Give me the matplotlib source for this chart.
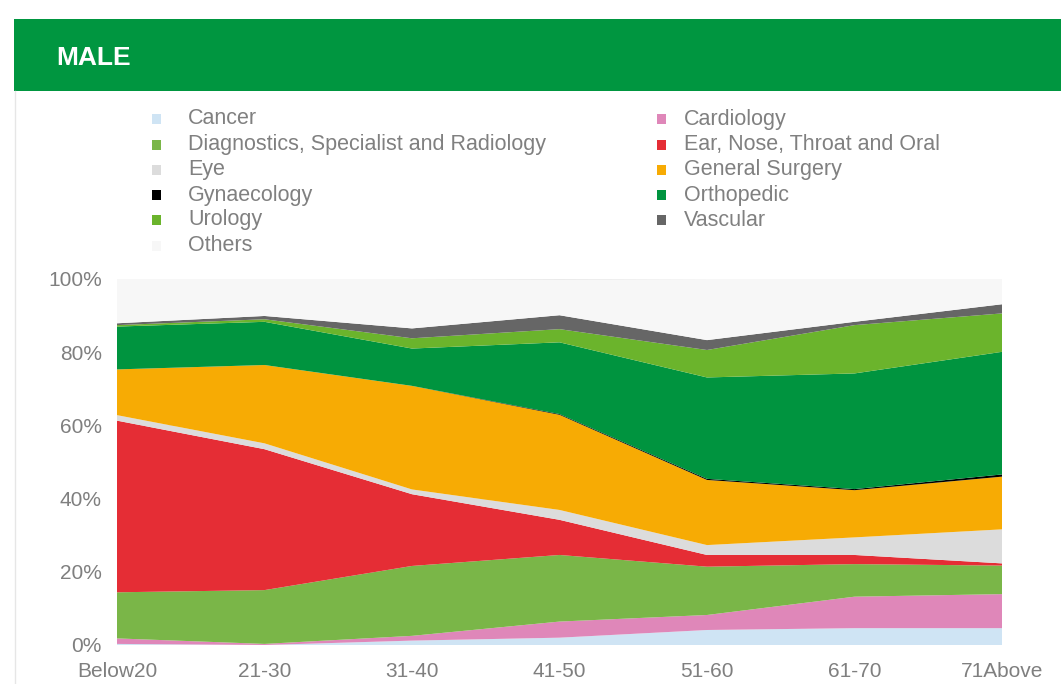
import matplotlib
matplotlib.use("Agg")
import matplotlib.pyplot as plt
from matplotlib.patches import Rectangle
import numpy as np

categories = ["Below20", "21-30", "31-40", "41-50", "51-60", "61-70", "71Above"]
cancer      = [0.3, 0.0, 1.2, 2.0, 4.1, 4.6, 4.6]
cardiology  = [1.5, 0.3, 1.3, 4.4, 4.1, 8.6, 9.3]
diagnostics = [12.6, 14.7, 19.1, 18.2, 13.2, 8.9, 7.8]
ent         = [46.9, 38.5, 19.6, 9.6, 3.2, 2.5, 0.6]
eye         = [1.5, 1.6, 1.3, 2.7, 2.7, 4.8, 9.3]
gen_surgery = [12.5, 21.4, 28.3, 26.0, 17.8, 12.9, 14.4]
gynaecology = [0.0, 0.0, 0.0, 0.2, 0.3, 0.3, 0.6]
orthopedic  = [11.7, 11.8, 10.2, 19.6, 27.7, 31.6, 33.5]
urology     = [0.4, 0.7, 2.8, 3.6, 7.5, 13.2, 10.5]
vascular    = [0.5, 0.9, 2.7, 3.8, 2.7, 0.9, 2.5]
others      = [12.1, 10.1, 13.5, 9.7, 16.7, 11.7, 6.9]

names = ["Cancer", "Cardiology", "Diagnostics, Specialist and Radiology",
         "Ear, Nose, Throat and Oral", "Eye", "General Surgery", "Gynaecology",
         "Orthopedic", "Urology", "Vascular", "Others"]
series = [cancer, cardiology, diagnostics, ent, eye, gen_surgery, gynaecology,
          orthopedic, urology, vascular, others]
colors = ["#cfe4f4", "#df87b9", "#7ab648", "#e52d35", "#dcdcdc", "#f7ab04",
          "#000000", "#00943f", "#6bb42c", "#666666", "#f7f7f7"]

plt.rcParams['font.family'] = ['Liberation Sans', 'DejaVu Sans']

W, H = 1061, 684
fig = plt.figure(figsize=(W/100, H/100), dpi=100)

# header band
fig.patches.append(Rectangle((14/W, 1-91/H), 1-14/W, 72/H, transform=fig.transFigure,
                             facecolor="#009640", edgecolor="none", zorder=0))
fig.text(56/W, 1-58/H, "MALE", color="white", fontsize=19, fontweight="bold",
         family=["Liberation Sans"], va="center", ha="left")
fig.add_artist(plt.Line2D([14.5/W, 14.5/W], [0, 1-91/H], transform=fig.transFigure,
                          color="#e6e6e6", lw=1))

ax = fig.add_axes([117/W, 1-645/H, (1002-117)/W, (645-279)/H])
x = np.arange(len(categories))
ax.stackplot(x, *series, colors=colors, linewidth=0, zorder=2)
ax.set_xlim(0, len(categories)-1)
ax.set_ylim(0, 100)
ax.set_yticks([0, 20, 40, 60, 80, 100])
ax.set_yticklabels([f"{v}%" for v in [0, 20, 40, 60, 80, 100]])
ax.set_xticks(x)
ax.set_xticklabels(categories)
ax.tick_params(length=0, labelsize=15, colors="#7f7f7f")
ax.tick_params(axis="x", pad=12)
ax.tick_params(axis="y", pad=11)
for s in ax.spines.values():
    s.set_visible(False)
ax.grid(axis="y", color="#e6e6e6", lw=1, zorder=0)
ax.set_axisbelow(True)

# legend (manual, two columns, row-major)
row_y = [119, 144.5, 170, 195, 220, 245.5]
for i, (nm, col) in enumerate(zip(names, colors)):
    r, c = divmod(i, 2)
    sx = 152 if c == 0 else 657
    tx = 188 if c == 0 else 684
    yc = row_y[r]
    fig.patches.append(Rectangle((sx/W, 1-(yc+5)/H), 9/W, 10/H, transform=fig.transFigure,
                                 facecolor=col, edgecolor="none"))
    fig.text(tx/W, 1-yc/H, nm, fontsize=15.5, color="#808080", va="center", ha="left")

fig.savefig("out.png", dpi=100)
